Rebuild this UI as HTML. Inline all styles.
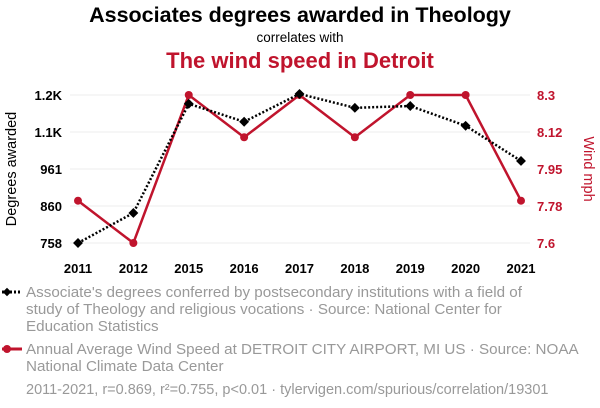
<!DOCTYPE html>
<html><head><meta charset="utf-8"><style>
body{margin:0;background:#fff;font-family:"Liberation Sans",sans-serif}
svg{display:block}
</style></head><body>
<svg id="c" width="600" height="408" xmlns="http://www.w3.org/2000/svg">
<text x="300" y="22" text-anchor="middle" font-size="21.5" font-weight="bold" fill="#000">Associates degrees awarded in Theology</text>
<text x="300" y="42" text-anchor="middle" font-size="13.5" fill="#000">correlates with</text>
<text x="300" y="68" text-anchor="middle" font-size="22" font-weight="bold" fill="#c0142d">The wind speed in Detroit</text>
<g id="grid"></g>
<g id="axes"></g>
<g id="series"></g>
<text transform="translate(16,169) rotate(-90)" text-anchor="middle" font-size="14.5" fill="#000">Degrees awarded</text>
<text transform="translate(584,169) rotate(90)" text-anchor="middle" font-size="14.5" fill="#c0142d">Wind mph</text>
<g>
<line x1="2" y1="292" x2="22" y2="292" stroke="#000" stroke-width="3" stroke-dasharray="2,2"/>
<rect x="4" y="289" width="6" height="6" transform="rotate(45 7 292)" fill="#000"/>
<text font-size="15.2" fill="#999"><tspan x="26" y="297">Associate's degrees conferred by postsecondary institutions with a field of</tspan><tspan x="26" y="314">study of Theology and religious vocations · Source: National Center for</tspan><tspan x="26" y="331">Education Statistics</tspan></text>
</g>
<g>
<line x1="2" y1="349" x2="22" y2="349" stroke="#c0142d" stroke-width="3"/>
<circle cx="7" cy="349" r="4" fill="#c0142d"/>
<text font-size="15.2" fill="#999"><tspan x="26" y="354">Annual Average Wind Speed at DETROIT CITY AIRPORT, MI US · Source: NOAA</tspan><tspan x="26" y="371">National Climate Data Center</tspan></text>
</g>
<text x="26" y="394" font-size="14.5" fill="#999">2011-2021, r=0.869, r²=0.755, p&lt;0.01 · tylervigen.com/spurious/correlation/19301</text>
</svg>
<script>
const years=["2011","2012","2015","2016","2017","2018","2019","2020","2021"];
const degrees=[758,840,1138,1089,1165,1127,1132,1078,982];
const wind=[7.8,7.6,8.3,8.1,8.3,8.1,8.3,8.3,7.8];
const leftTicks=[758,859,960,1061,1162];
const leftLabels=["758","860","961","1.1K","1.2K"];
const rightTicks=[7.6,7.775,7.95,8.125,8.3];
const rightLabels=["7.6","7.78","7.95","8.12","8.3"];
const NS="http://www.w3.org/2000/svg";
const x=i=>78+i*(521-78)/(years.length-1);
const yL=v=>243-(v-758)/(1162-758)*148;
const yR=v=>243-(v-7.6)/(8.3-7.6)*148;
function mk(t,a,p){const e=document.createElementNS(NS,t);for(const k in a)e.setAttribute(k,a[k]);p.appendChild(e);return e;}
const grid=document.getElementById('grid'),axes=document.getElementById('axes'),ser=document.getElementById('series');
leftTicks.forEach((v,i)=>{
 const g=mk('line',{x1:70,x2:530,y1:yL(v),y2:yL(v),stroke:'#eee','stroke-width':1},grid);
 
 
 const t=mk('text',{x:62,y:yL(v)+5,'text-anchor':'end','font-size':13,'font-weight':'bold',fill:'#000'},axes);t.textContent=leftLabels[i];
 
 
});
rightTicks.forEach((v,i)=>{
 const t=mk('text',{x:537,y:yR(v)+5,'font-size':13,'font-weight':'bold',fill:'#c0142d'},axes);t.textContent=rightLabels[i];
 
 
});
years.forEach((yr,i)=>{
 const t=mk('text',{x:x(i),y:273,'text-anchor':'middle','font-size':13,'font-weight':'bold',fill:'#000'},axes);t.textContent=yr;
 
 
});
const rl=mk('polyline',{points:wind.map((v,i)=>x(i)+','+yR(v)).join(' '),fill:'none',stroke:'#c0142d','stroke-width':2.5},ser);


wind.forEach((v,i)=>{const c=mk('circle',{cx:x(i),cy:yR(v),r:4,fill:'#c0142d'},ser);
 
 });
const bl=mk('polyline',{points:degrees.map((v,i)=>x(i)+','+yL(v)).join(' '),fill:'none',stroke:'#000','stroke-width':2.5,'stroke-dasharray':'2,2'},ser);


degrees.forEach((v,i)=>{const r=mk('rect',{x:x(i)-3.5,y:yL(v)-3.5,width:7,height:7,fill:'#000',transform:`rotate(45 ${x(i)} ${yL(v)})`},ser);
 
 });
</script>
</body></html>
